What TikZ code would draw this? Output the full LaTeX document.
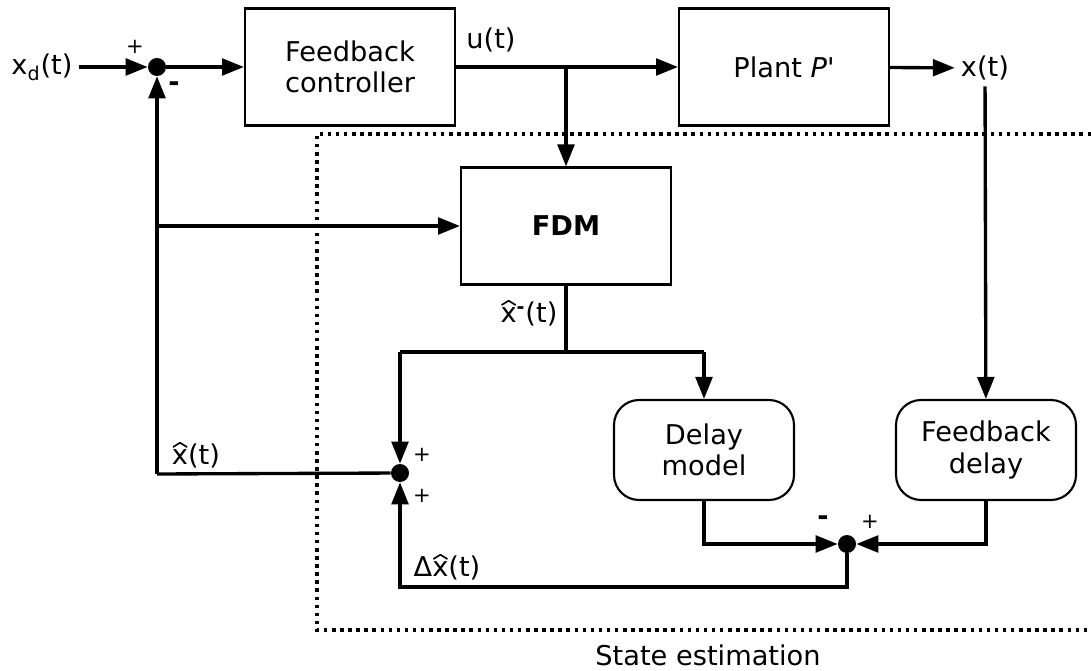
\documentclass[tikz,border=0pt]{standalone}
\usepackage{fontspec}
\setmainfont{DejaVu Sans}
\usetikzlibrary{arrows.meta,positioning}

% x with a wide hat
\newcommand{\hx}{\tikz[baseline=0pt,x=1em,y=1em,line width=0.06em]{\node[inner sep=0pt,anchor=base] (hxg) at (0,0) {x}; \draw (-0.26,0.64) -- (0,0.8) -- (0.26,0.64);}}

\begin{document}
\begin{tikzpicture}[x=0.02cm,y=-0.02cm,
  font=\fontsize{15.5}{18}\selectfont,
  block/.style={draw,line width=1.2pt,minimum width=4.2cm,minimum height=2.34cm,align=center},
  rblock/.style={draw,line width=1.2pt,rounded corners=0.5cm,minimum width=3.6cm,minimum height=2cm,align=center},
  sumdot/.style={circle,fill,inner sep=0pt,minimum size=0.36cm},
  sig/.style={line width=1.9pt,-{Triangle[length=12.5pt,width=9.5pt]}},
  wire/.style={line width=1.9pt},
  sign/.style={font=\fontsize{12}{14}\selectfont}]

\useasboundingbox (0,0) rectangle (1091,671);

% State estimation region
\draw[line width=2pt,dash pattern=on 2pt off 2.6pt] (1091,134) -- (317,134) -- (317,630) -- (1091,630);
\node (se) at (708,655) {State estimation};

% Blocks
\node[block] (ctrl) at (350,67) {Feedback\\controller};
\node[block] (plant) at (784,67) {Plant \textit{P}\textquotesingle};
\node[block] (fdm) at (566,226) {\textbf{FDM}};
\node[rblock] (dm) at (704,450) {Delay\\model};
\node[rblock] (fd) at (986,450) {Feedback\\delay};

% Summing points
\node[sumdot] (s1) at (157,67) {};
\node[sumdot] (s2) at (400,473) {};
\node[sumdot] (s3) at (847,544) {};

% Signals
\node (xd) at (42,67) {x\textsubscript{d}(t)};
\node (xt) at (985,68) {x(t)};
\node (ut) at (491,40) {u(t)};
\node (xpre) at (529,313) {\hx\textsuperscript{\textbf{-}}(t)};
\node (xest) at (196,455) {\hx(t)};
\node (dx) at (447,567) {Δ\hx(t)};

% Branch points
\coordinate (u) at (566,67);
\coordinate (split) at (566,352);
\coordinate (l) at (400,352);
\coordinate (r) at (704,352);
\coordinate (fb) at (157,474);
\coordinate (fbm) at (157,226);
\coordinate (lo) at (400,587);

% Forward path
\draw[sig] (xd) -- (s1);
\draw[sig] (s1) -- (ctrl);
\draw[wire] (ctrl) -- (u);
\draw[sig] (u) -- (plant);
\draw[sig] (plant) -- (xt);
\draw[sig] (u) -- (fdm);
\draw[sig] (xt) -- (fd);

% Estimator loop
\draw[wire] (fdm) -- (split);
\draw[wire] (l) -- (r);
\draw[sig] (l) -- (s2);
\draw[sig] (r) -- (dm);
\draw[sig] (dm) |- (s3);
\draw[sig] (fd) |- (s3);
\draw[sig] (s3) |- (lo) -- (s2);

% Feedback of the estimate
\draw[wire] (s2) -- (fb);
\draw[sig] (fb) -- (s1);
\draw[sig] (fbm) -- (fdm);

% Signs
\node[sign] (p1) at (135,47) {+};
\node (m1) at (174,87) {\textbf{-}};
\node[sign] (p2) at (422,455) {+};
\node[sign] (p3) at (422,496) {+};
\node (m3) at (823,521) {\textbf{-}};
\node[sign] (p4) at (870,522) {+};

\end{tikzpicture}
\end{document}
